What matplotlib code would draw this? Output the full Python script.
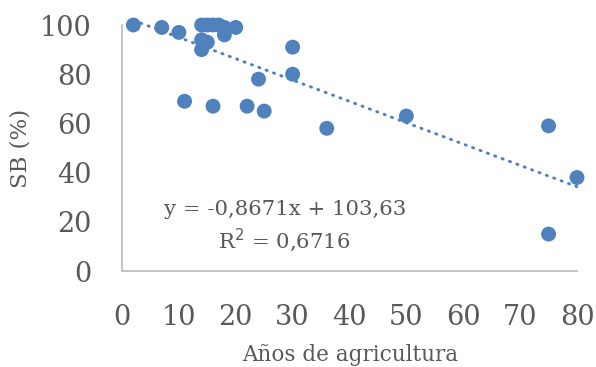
import matplotlib.pyplot as plt
import numpy as np

# years farming vs SB (%)
anios = [2, 7, 10, 11, 14, 14, 14, 15, 15, 16, 16, 17, 18, 18, 20,
         22, 24, 25, 30, 30, 36, 50, 75, 75, 80]
sb = [100, 99, 97, 69, 100, 94, 90, 100, 93, 100, 67, 100, 99, 96, 99,
      67, 78, 65, 91, 80, 58, 63, 59, 15, 38]

# linear trend (Excel)
pendiente = -0.8671
intercepto = 103.63
r2 = 0.6716

azul = '#4F81BD'
gris = '#595959'

plt.rcParams['font.family'] = ['DejaVu Serif']

fig = plt.figure(figsize=(5.96, 3.67), dpi=100)
ax = fig.add_axes([122/596, 1 - 271/367, 455/596, 246/367])

ax.scatter(anios, sb, s=115, color=azul, edgecolors='none', zorder=3, clip_on=False)

xt = np.array([min(anios), max(anios)])
ax.plot(xt, pendiente * xt + intercepto, color=azul, linestyle=(0, (0.4, 2.3)),
        linewidth=2.1, dash_capstyle='round', zorder=2, clip_on=False)

ax.set_xlim(0, 80)
ax.set_ylim(0, 100)
ax.set_xticks(range(0, 81, 10))
ax.set_yticks(range(0, 101, 20))
ax.tick_params(length=0, labelsize=19.5, colors=gris)
ax.tick_params(axis='y', pad=22)
ax.tick_params(axis='x', pad=24)

for s in ['top', 'right']:
    ax.spines[s].set_visible(False)
for s in ['left', 'bottom']:
    ax.spines[s].set_color('#BFBFBF')
    ax.spines[s].set_linewidth(1.3)

ax.text(28.6, 24.8, 'y = -0,8671x + 103,63', ha='center', va='center',
        fontsize=15.3, color=gris)
ax.text(28.6, 12.6, 'R$^2$ = 0,6716', ha='center', va='center',
        fontsize=15.3, color=gris)

fig.text(350/596, 1 - 355/367, 'Años de agricultura', ha='center', va='center',
         fontsize=15.5, color=gris)
fig.text(20/596, 1 - 148/367, 'SB (%)', ha='center', va='center',
         rotation=90, fontsize=16.5, color=gris)

fig.savefig('out.png', dpi=100)
